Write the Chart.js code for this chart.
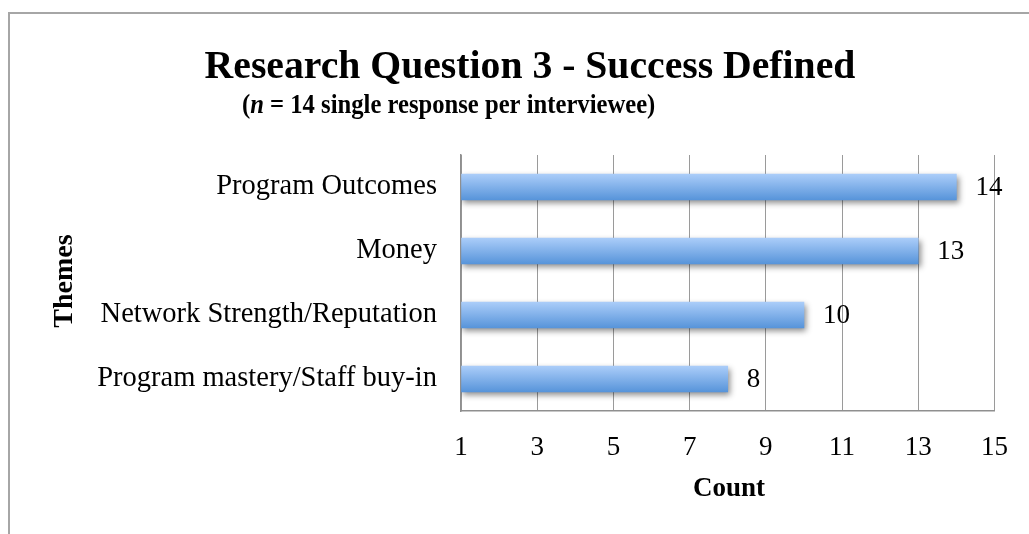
<!DOCTYPE html>
<html>
<head>
<meta charset="utf-8">
<script src="https://cdn.jsdelivr.net/npm/chart.js@4"></script>
<style>
  html, body { margin: 0; padding: 0; background: #fff; }
  #wrap { width: 1029px; height: 534px; position: relative; }
</style>
</head>
<body>
<div id="wrap"><canvas id="chart" width="1029" height="534"></canvas></div>
<script>
// données
const themes = [
  "Program Outcomes",
  "Money",
  "Network Strength/Reputation",
  "Program mastery/Staff buy-in"
];
const counts = [14, 13, 10, 8];
const xTicks = [1, 3, 5, 7, 9, 11, 13, 15];

const FONT = "'Liberation Serif', 'Times New Roman', serif";

// textes du titre, axes et étiquettes de valeur
const decorPlugin = {
  id: "decor",
  beforeDraw(chart) {
    const ctx = chart.ctx;
    ctx.save();
    // cadre
    ctx.strokeStyle = "#a6a6a6";
    ctx.lineWidth = 2;
    ctx.beginPath();
    ctx.moveTo(9, 540);
    ctx.lineTo(9, 13);
    ctx.lineTo(1035, 13);
    ctx.stroke();
    ctx.restore();
  },
  afterDraw(chart) {
    const ctx = chart.ctx;
    ctx.save();
    ctx.fillStyle = "#000";
    ctx.textBaseline = "alphabetic";

    // titre
    ctx.font = "bold 39.7px " + FONT;
    ctx.textAlign = "center";
    ctx.fillText("Research Question 3 - Success Defined", 530, 78);

    // sous-titre avec n en italique (police un peu étroite, comme l'original)
    ctx.save();
    ctx.translate(242, 113);
    ctx.scale(0.93, 1);
    let x = 0;
    ctx.textAlign = "left";
    const parts = [
      ["(", "bold 26.5px "],
      ["n", "italic bold 26.5px "],
      [" = 14 single response per interviewee)", "bold 26.5px "]
    ];
    parts.forEach(([t, f]) => {
      ctx.font = f + FONT;
      ctx.fillText(t, x, 0);
      x += ctx.measureText(t).width;
    });
    ctx.restore();

    // titres des axes
    ctx.textAlign = "center";
    ctx.textBaseline = "middle";
    ctx.font = "bold 27px " + FONT;
    ctx.fillText("Count", 729, 489);
    ctx.font = "bold 28px " + FONT;
    ctx.save();
    ctx.translate(65, 281);
    ctx.rotate(-Math.PI / 2);
    ctx.fillText("Themes", 0, 0);
    ctx.restore();

    // étiquettes de valeur
    const meta = chart.getDatasetMeta(0);
    ctx.font = "27px " + FONT;
    ctx.textAlign = "left";
    meta.data.forEach((bar, i) => {
      ctx.fillText(String(counts[i]), bar.x + 19, bar.y + 1);
    });
    ctx.restore();
  }
};

// dégradé + ombre des barres
const barStylePlugin = {
  id: "barStyle",
  beforeDatasetsDraw(chart) {
    const ctx = chart.ctx;
    chart.getDatasetMeta(0).data.forEach(bar => {
      const top = bar.y - bar.height / 2;
      const g = ctx.createLinearGradient(0, top, 0, top + bar.height);
      g.addColorStop(0, "#abcdf9");
      g.addColorStop(1, "#5794da");
      // options partagées entre barres -> copie propre à chaque barre
      bar.options = Object.assign({}, bar.options, { backgroundColor: g });
    });
    ctx.save();
    ctx.shadowColor = "rgba(0,0,0,0.45)";
    ctx.shadowBlur = 6;
    ctx.shadowOffsetX = 2;
    ctx.shadowOffsetY = 3;
  },
  afterDatasetsDraw(chart) {
    chart.ctx.restore();
  }
};

new Chart(document.getElementById("chart"), {
  type: "bar",
  data: {
    labels: themes,
    datasets: [{
      data: counts,
      base: 1,
      backgroundColor: "#7fb0ea",
      borderWidth: 0,
      barThickness: 26
    }]
  },
  options: {
    indexAxis: "y",
    responsive: false,
    animation: false,
    layout: { padding: { top: 155, right: 32, left: 0, bottom: 0 } },
    plugins: {
      legend: { display: false },
      tooltip: { enabled: false }
    },
    scales: {
      x: {
        min: 1,
        max: 15,
        afterBuildTicks(scale) {
          scale.ticks = xTicks.map(v => ({ value: v }));
        },
        afterFit(scale) { scale.height = 123; },
        grid: { color: "#9a9a9a", lineWidth: 1, drawTicks: false },
        border: { color: "#8f8f8f", width: 1.5 },
        ticks: {
          color: "#000",
          padding: 21,
          font: { family: FONT, size: 27 }
        }
      },
      y: {
        afterFit(scale) { scale.width = 461; },
        grid: { display: false, drawTicks: false },
        border: { color: "#8f8f8f", width: 1.5 },
        ticks: {
          color: "#000",
          padding: 24,
          font: { family: FONT, size: 28.5 }
        }
      }
    }
  },
  plugins: [decorPlugin, barStylePlugin]
});
</script>
</body>
</html>
